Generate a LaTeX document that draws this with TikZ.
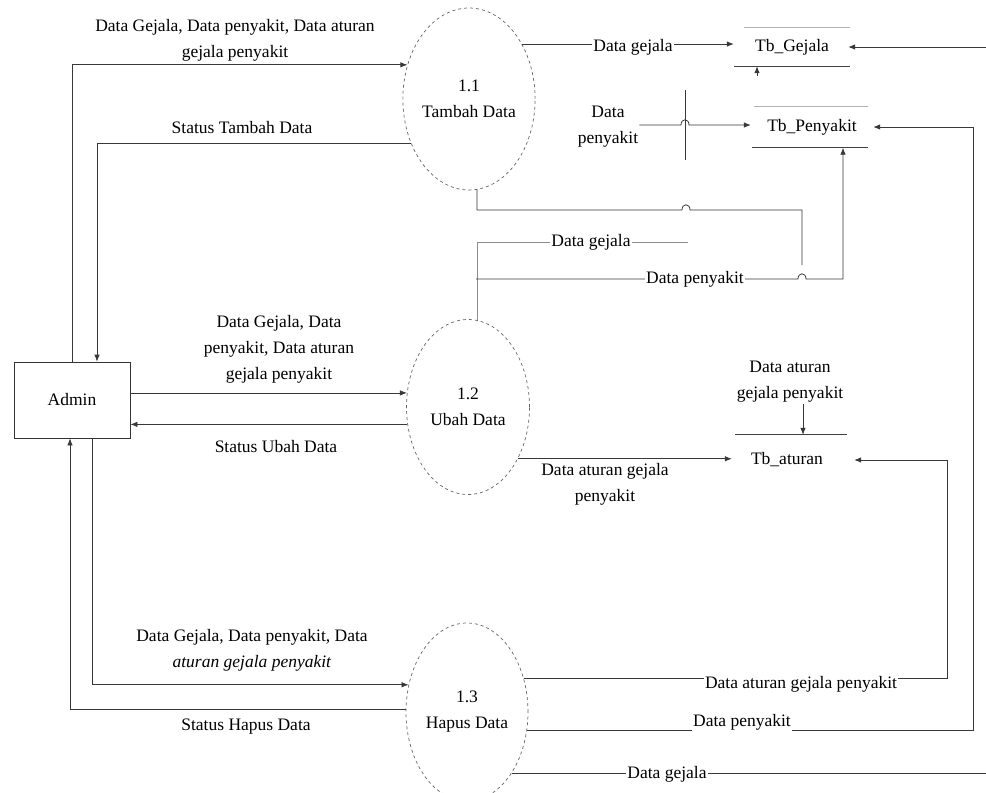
\documentclass[tikz,border=0pt]{standalone}
\usepackage{fontspec}
\setmainfont{Liberation Serif}
\usetikzlibrary{shapes.geometric,arrows.meta}

\begin{document}
\begin{tikzpicture}[x=1pt,y=-1pt,
  txt/.style={font=\fontsize{17.5}{26}\selectfont},
  flow/.style={draw=black!78, line width=0.8pt},
  soft/.style={draw=black!45, line width=0.8pt},
  arr/.style={flow,-{Latex[length=7pt,width=5.5pt]}},
  proc/.style={txt, ellipse, draw=black!60, dashed, line width=0.7pt, inner sep=0pt, align=center},
  lbl/.style={txt, align=center, inner sep=1pt},
  onl/.style={lbl, fill=white},
  store/.style={txt, inner sep=0pt},
  sline/.style={draw=black!75, line width=0.8pt},
  faint/.style={draw=black!30, line width=0.8pt}]

\useasboundingbox (0,0) rectangle (986,793);
\fill[white] (0,0) rectangle (986,793);

% external entity and processes
\node[txt, draw=black!80, line width=0.8pt, minimum width=116pt, minimum height=76pt, inner sep=0pt] (admin) at (72,400) {Admin};
\node[proc, minimum width=122pt, minimum height=182pt] (p11) at (469,99) {1.1\\Tambah Data};
\node[proc, minimum width=123pt, minimum height=175pt] (p12) at (468,407) {1.2\\Ubah Data};
\node[proc, minimum width=122pt, minimum height=178pt] (p13) at (467,712) {1.3\\Hapus Data};

% data stores
\node[store, minimum width=116pt, minimum height=38pt] (gej) at (792,47) {Tb\_Gejala};
\node[store, minimum width=122pt, minimum height=41pt] (pen) at (812,127) {Tb\_Penyakit};
\node[store, minimum width=122pt, minimum height=50pt] (atr) at (793,460) {\hspace*{-12pt}Tb\_aturan};
\draw[faint] ([xshift=10pt]gej.north west) -- (gej.north east);
\draw[sline] (gej.south west) -- (gej.south east);
\draw[faint] ([xshift=3pt]pen.north west) -- ([xshift=-5pt]pen.north east);
\draw[sline] ([xshift=1pt]pen.south west) -- ([xshift=-5pt]pen.south east);
\draw[sline] ([xshift=3pt]atr.north west) -- ([xshift=-7pt]atr.north east);

% helper coordinates at the right side
\coordinate (rim) at (986,0);
\coordinate (rk) at (973,0);
\coordinate (ra) at (947,0);
\coordinate (j2) at (476,279);

% Admin and process 1.1
\draw[arr] (admin.north) |- (p11.151.6);
\draw[arr] (p11.217) -| ([xshift=25pt]admin.north);
\node[lbl] (l_a1) at (235,40) {Data Gejala, Data penyakit, Data aturan\\gejala penyakit};
\node[lbl] (l_s1) at (242,128) {Status Tambah Data};

% process 1.1 to the stores
\draw[arr] (p11.46.1) -- (p11.46.1 -| gej.west);
\node[onl] (l_g1) at (633,47) {Data gejala};
\node[lbl] (l_p1) at (608,127) {Data\\penyakit};
\draw[arr] ([yshift=2pt]l_p1.east) -- (681,125) .. controls (681,118) and (689,118) .. (689,125) -- (pen.west |- 0,125);
\draw[flow] (685,90) -- (685,160);
\draw[flow] (p11.275) |- (682,210) .. controls (682,203) and (690,203) .. (690,210) -- (802,210) -- (802,265);

% flows entering the stores from the right side
\draw[arr] (rim |- gej.east) -- ([xshift=-2pt]gej.east);
\draw[arr] ([xshift=-35pt,yshift=-10pt]gej.south) -- ([xshift=-35pt]gej.south);

% process 1.2
\draw[soft] (p12.84.7) |- (688,242);
\node[onl] (l_g2) at (591,242) {Data gejala};
\draw[arr] (j2) -- (798,279) .. controls (798,272) and (806,272) .. (806,279) -| ([xshift=31pt]pen.south);
\node[onl] (l_p2) at (695,279) {Data penyakit};
\draw[arr] (admin.east |- p12.167) -- (p12.167);
\draw[arr] (p12.196.7) -- (p12.196.7 -| admin.east);
\node[lbl] (l_a2) at (279,349) {Data Gejala, Data\\penyakit, Data aturan\\gejala penyakit};
\node[lbl] (l_s2) at (276,447) {Status Ubah Data};
\draw[arr] (p12.314.4) -- (p12.314.4 -| atr.west);
\node[lbl] (l_r2) at (605,484) {Data aturan gejala\\penyakit};
\node[lbl] (l_r0) at (790,382) {Data aturan\\gejala penyakit};
\draw[arr] ([xshift=13pt]l_r0.south) -- ([xshift=13pt]l_r0.south |- atr.north);

% process 1.3
\draw[arr] ([xshift=20pt]admin.south) |- (p13.155.1);
\draw[arr] (p13.178) -| ([xshift=-2pt]admin.south);
\node[lbl] (l_a3) at (252,650) {Data Gejala, Data penyakit, Data\\\textit{aturan gejala penyakit}};
\node[lbl] (l_s3) at (246,727) {Status Hapus Data};
\draw[arr] (p13.31.1) -| (ra |- atr.east) -- (atr.east);
\node[onl] (l_r3) at (801,684) {Data aturan gejala penyakit};
\draw[arr] (p13.343.2) -| (rk |- pen.east) -- (pen.east);
\node[onl] (l_p3) at (742,722) {Data penyakit};
\draw[flow] (p13.306) -- (p13.306 -| rim);
\node[onl] (l_g3) at (667,774) {Data gejala};
\end{tikzpicture}
\end{document}
